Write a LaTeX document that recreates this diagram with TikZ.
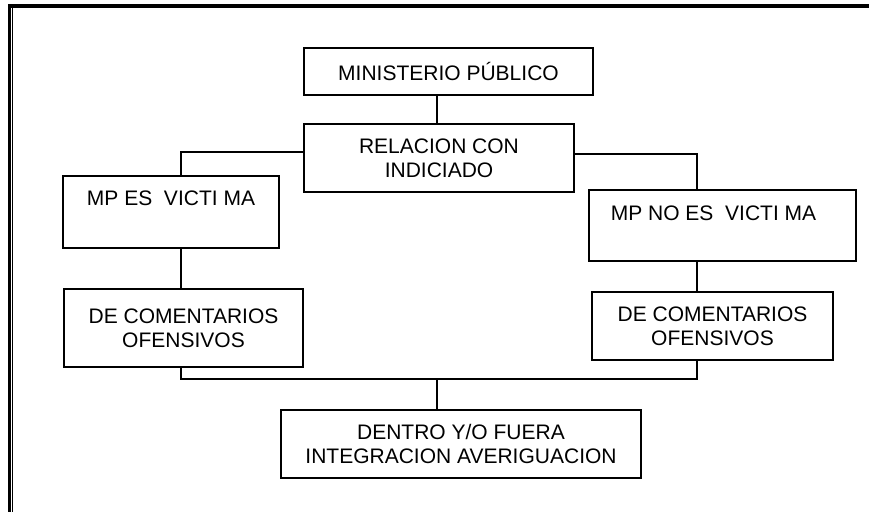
\documentclass[tikz,border=0pt]{standalone}
\usepackage{fontspec}
\setmainfont{Liberation Sans}
\begin{document}
\begin{tikzpicture}[x=1pt,y=-1pt,
  box/.style={draw=black,line width=1.5pt,inner sep=0pt,outer sep=0pt,font=\fontsize{21}{24}\selectfont,align=center},
  topbox/.style={draw=black,line width=1.5pt,inner sep=0pt,outer sep=0pt,font=\fontsize{21}{24}\selectfont,anchor=north west},
  conn/.style={line width=1.4pt,line cap=rect}]
\useasboundingbox (0,0) rectangle (869,512);
\fill[white] (0,0) rectangle (869,512);
% frame
\fill[black] (8,4) rectangle (869,8);
\fill[black] (8,4) rectangle (11,512);
\fill[black] (12,8) rectangle (13.3,512);
% boxes
\node[box,minimum width=289pt,minimum height=47pt] (mp) at (448.5,71.5) {MINISTERIO PÚBLICO};
\node[box,minimum width=270pt,minimum height=68pt] (rel) at (439,158) {RELACION CON\\INDICIADO};
\node[topbox,minimum width=216pt,text height=29pt,text depth=43pt] (mpes) at (63,176) {MP ES\ \ VICTI MA};
\node[topbox,minimum width=267pt,text height=30pt,text depth=41pt] (mpnoes) at (589,190) {MP NO ES\ \ VICTI MA\hspace*{18pt}};
\node[box,minimum width=239pt,minimum height=78pt] (dcl) at (183.5,328) {DE COMENTARIOS\\OFENSIVOS};
\node[box,minimum width=241pt,minimum height=68pt] (dcr) at (712.5,326) {DE COMENTARIOS\\OFENSIVOS};
\node[box,minimum width=360pt,minimum height=68pt] (fin) at (461,444) {DENTRO Y/O FUERA\\INTEGRACION AVERIGUACION};
% junction coordinates
\coordinate (xm) at (437,0);
\coordinate (lj) at (181,152);
\coordinate (rj) at (697,154);
\coordinate (bj) at (437,379);
% connectors
\draw[conn] (mp.south -| xm) -- (rel.north -| xm);
\draw[conn] (rel.west |- lj) -- (lj) -- (lj |- mpes.north);
\draw[conn] (rel.east |- rj) -- (rj) -- (rj |- mpnoes.north);
\draw[conn] (mpes.south -| lj) -- (dcl.north -| lj);
\draw[conn] (mpnoes.south -| rj) -- (dcr.north -| rj);
\draw[conn] (dcl.south -| lj) -- (lj |- bj) -- (rj |- bj) -- (dcr.south -| rj);
\draw[conn] (bj) -- (bj |- fin.north);
\end{tikzpicture}
\end{document}
